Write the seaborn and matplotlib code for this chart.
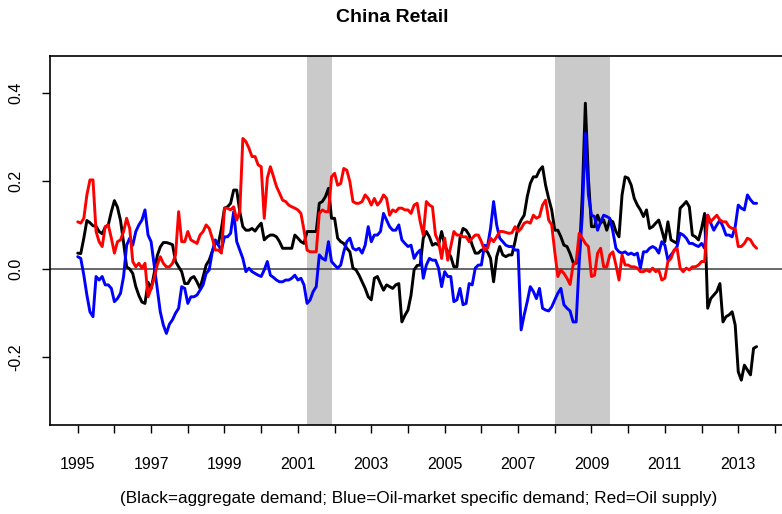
import numpy as np
import pandas as pd
import seaborn as sns
import matplotlib.pyplot as plt

# --- Style ---
sns.set_theme(style="ticks")
plt.rcParams['font.family'] = ['Liberation Sans', 'DejaVu Sans']
plt.rcParams['text.color'] = 'black'

# --- Data (monthly, 1995:01 - 2013:07) ---
START_YEAR = 1995

aggregate_demand = [
    0.036, 0.035, 0.07, 0.11, 0.105, 0.098, 0.097, 0.085, 0.08, 0.095,
    0.1, 0.13, 0.155, 0.14, 0.11, 0.06, 0.005, 0.0, -0.01, -0.04,
    -0.06, -0.075, -0.078, -0.03, -0.045, -0.01, 0.03, 0.05, 0.06, 0.06,
    0.058, 0.055, 0.017, 0.005, -0.006, -0.033, -0.033, -0.021, -0.017, -0.029,
    -0.044, -0.017, 0.009, 0.02, 0.04, 0.058, 0.058, 0.092, 0.138, 0.141,
    0.149, 0.179, 0.179, 0.13, 0.096, 0.088, 0.088, 0.092, 0.086, 0.096,
    0.104, 0.066, 0.073, 0.077, 0.077, 0.073, 0.062, 0.047, 0.047, 0.047,
    0.047, 0.077, 0.07, 0.062, 0.058, 0.085, 0.085, 0.085, 0.085, 0.149,
    0.153, 0.164, 0.183, 0.115, 0.115, 0.07, 0.062, 0.058, 0.047, 0.039,
    0.002, -0.002, -0.014, -0.029, -0.044, -0.063, -0.07, -0.021, -0.017, -0.033,
    -0.048, -0.036, -0.04, -0.044, -0.036, -0.033, -0.12, -0.105, -0.093, -0.059,
    -0.002, 0.008, 0.009, 0.07, 0.085, 0.073, 0.054, 0.058, 0.054, 0.085,
    0.054, 0.039, 0.028, 0.005, 0.005, 0.07, 0.092, 0.088, 0.077, 0.054,
    0.036, 0.036, 0.043, 0.043, 0.039, 0.024, -0.029, 0.028, 0.051, 0.032,
    0.028, 0.032, 0.032, 0.062, 0.096, 0.111, 0.122, 0.164, 0.194, 0.209,
    0.209, 0.224, 0.232, 0.19, 0.16, 0.134, 0.088, 0.088, 0.073, 0.054,
    0.051, 0.035, 0.015, 0.013, 0.024, 0.168, 0.376, 0.206, 0.096, 0.096,
    0.122, 0.104, 0.111, 0.088, 0.111, 0.107, 0.085, 0.073, 0.168, 0.209,
    0.206, 0.19, 0.16, 0.145, 0.134, 0.119, 0.134, 0.092, 0.096, 0.104,
    0.111, 0.088, 0.062, 0.107, 0.066, 0.062, 0.058, 0.138, 0.145, 0.153,
    0.141, 0.077, 0.073, 0.066, 0.092, 0.126, -0.089, -0.067, -0.059, -0.051,
    -0.033, -0.12, -0.108, -0.104, -0.097, -0.127, -0.233, -0.252, -0.218, -0.229,
    -0.24, -0.18, -0.176,
]

oil_specific_demand = [
    0.028, 0.024, -0.014, -0.059, -0.097, -0.108, -0.017, -0.025, -0.017, -0.036,
    -0.036, -0.044, -0.074, -0.067, -0.055, -0.017, 0.054, 0.07, 0.054, 0.085,
    0.1, 0.111, 0.134, 0.077, 0.062, 0.009, -0.044, -0.097, -0.127, -0.146,
    -0.125, -0.115, -0.1, -0.089, -0.04, -0.044, -0.078, -0.063, -0.063, -0.059,
    -0.048, -0.036, -0.01, -0.002, 0.039, 0.066, 0.054, 0.043, 0.073, 0.073,
    0.081, 0.13, 0.062, 0.043, 0.024, -0.006, 0.002, -0.006, -0.01, -0.014,
    -0.017, -0.002, 0.017, -0.014, -0.019, -0.025, -0.029, -0.029, -0.025, -0.025,
    -0.021, -0.014, -0.025, -0.021, -0.036, -0.078, -0.07, -0.051, -0.04, 0.032,
    0.024, 0.02, 0.062, 0.017, 0.009, 0.002, 0.009, 0.039, 0.062, 0.07,
    0.047, 0.043, 0.047, 0.036, 0.054, 0.096, 0.062, 0.077, 0.077, 0.085,
    0.126, 0.111, 0.096, 0.088, 0.088, 0.1, 0.066, 0.058, 0.051, 0.054,
    0.024, 0.036, 0.043, -0.021, 0.009, 0.024, 0.02, 0.02, 0.002, -0.04,
    -0.006, -0.017, -0.017, -0.074, -0.07, -0.044, -0.081, -0.078, -0.033, -0.036,
    0.002, 0.009, 0.009, 0.054, 0.051, 0.092, 0.153, 0.1, 0.07, 0.062,
    0.054, 0.051, 0.051, 0.043, 0.043, -0.138, -0.104, -0.074, -0.04, -0.051,
    -0.067, -0.044, -0.089, -0.093, -0.095, -0.086, -0.07, -0.055, -0.044, -0.081,
    -0.089, -0.095, -0.12, -0.12, 0.017, 0.122, 0.308, 0.168, 0.122, 0.119,
    0.088, 0.107, 0.122, 0.119, 0.115, 0.085, 0.047, 0.039, 0.036, 0.039,
    0.033, 0.036, 0.032, 0.036, 0.002, 0.039, 0.039, 0.047, 0.051, 0.047,
    0.036, 0.062, 0.054, 0.02, 0.032, 0.041, 0.051, 0.081, 0.077, 0.07,
    0.058, 0.058, 0.054, 0.051, 0.058, 0.047, 0.122, 0.104, 0.088, 0.1,
    0.111, 0.096, 0.077, 0.077, 0.073, 0.096, 0.145, 0.138, 0.134, 0.168,
    0.157, 0.149, 0.149,
]

oil_supply = [
    0.107, 0.104, 0.115, 0.168, 0.202, 0.202, 0.085, 0.062, 0.051, 0.096,
    0.1, 0.07, 0.036, 0.062, 0.066, 0.085, 0.115, 0.092, 0.017, 0.005,
    0.013, 0.002, 0.013, -0.063, -0.044, -0.021, 0.009, 0.028, 0.013, 0.005,
    0.005, 0.013, 0.032, 0.13, 0.062, 0.062, 0.085, 0.066, 0.062, 0.058,
    0.077, 0.085, 0.1, 0.092, 0.07, 0.043, 0.043, 0.036, 0.138, 0.138,
    0.134, 0.141, 0.111, 0.13, 0.296, 0.289, 0.274, 0.255, 0.255, 0.236,
    0.232, 0.115, 0.206, 0.232, 0.21, 0.187, 0.172, 0.156, 0.153, 0.145,
    0.141, 0.138, 0.134, 0.126, 0.088, 0.043, 0.039, 0.039, 0.039, 0.126,
    0.134, 0.13, 0.13, 0.209, 0.217, 0.19, 0.194, 0.228, 0.224, 0.198,
    0.153, 0.149, 0.149, 0.153, 0.168, 0.16, 0.145, 0.16, 0.145, 0.153,
    0.168, 0.16, 0.122, 0.134, 0.13, 0.138, 0.138, 0.134, 0.134, 0.126,
    0.145, 0.149, 0.107, 0.077, 0.153, 0.145, 0.141, 0.077, 0.062, 0.024,
    0.07, 0.02, 0.051, 0.085, 0.077, 0.077, 0.073, 0.073, 0.062, 0.07,
    0.077, 0.077, 0.062, 0.043, 0.047, 0.07, 0.062, 0.073, 0.085, 0.085,
    0.083, 0.081, 0.082, 0.096, 0.085, 0.092, 0.104, 0.107, 0.104, 0.122,
    0.115, 0.119, 0.145, 0.156, 0.111, 0.1, 0.039, -0.017, -0.002, -0.01,
    -0.021, -0.035, 0.009, 0.017, 0.081, 0.07, 0.058, 0.051, -0.017, -0.014,
    0.036, 0.047, 0.005, 0.005, 0.032, 0.039, 0.009, -0.025, 0.032, 0.009,
    0.009, 0.005, 0.005, 0.002, -0.006, -0.006, -0.002, -0.006, 0.002, -0.006,
    -0.002, -0.025, -0.021, 0.017, 0.024, 0.043, 0.047, 0.002, -0.006, 0.002,
    -0.002, 0.005, 0.005, 0.009, 0.017, 0.017, 0.122, 0.107, 0.115, 0.122,
    0.111, 0.107, 0.107, 0.096, 0.092, 0.092, 0.051, 0.051, 0.058, 0.07,
    0.066, 0.054, 0.047,
]

# US recessions (shaded)
recessions = [(2001.25, 2001.92), (2008.0, 2009.5)]

series_names = ['Aggregate demand', 'Oil-market specific demand', 'Oil supply']
series_colors = ['black', 'blue', 'red']
x_ticks = list(range(1995, 2015))
y_ticks = [-0.2, 0.0, 0.2, 0.4]

# --- Long-format frame for seaborn ---
n = len(aggregate_demand)
year = START_YEAR + np.arange(n) / 12
df = pd.DataFrame({
    'year': np.tile(year, 3),
    'value': aggregate_demand + oil_specific_demand + oil_supply,
    'shock': np.repeat(series_names, n),
})

# --- Plot ---
W, H = 782, 514
fig = plt.figure(figsize=(W / 100, H / 100), dpi=100)
ax = fig.add_axes([50 / W, (H - 425) / H, 740 / W, 369 / H])

for start, end in recessions:
    ax.axvspan(start, end, color='#cacaca', lw=0, zorder=0)

ax.axhline(0, color='#404040', lw=1.1, zorder=1)

sns.lineplot(data=df, x='year', y='value', hue='shock', hue_order=series_names,
             palette=dict(zip(series_names, series_colors)), estimator=None,
             linewidth=2.1, legend=False, ax=ax, zorder=3)

ax.set_xlim(1994.245, 2014.41)
ax.set_ylim(-0.3537, 0.483)

ax.set_xticks(x_ticks)
ax.set_xticklabels([str(y) if y % 2 == 1 else '' for y in x_ticks])
ax.set_yticks(y_ticks)
ax.set_yticklabels([f"{v:.1f}" for v in y_ticks], rotation=90, va='center')
ax.tick_params(axis='both', direction='out', length=6, width=1.0,
               color='black', labelsize=11.5, labelcolor='black')
ax.tick_params(axis='x', pad=17)
ax.tick_params(axis='y', pad=13)

for side in ['left', 'bottom', 'top']:
    ax.spines[side].set_color('black')
    ax.spines[side].set_linewidth(1.2)
ax.spines['right'].set_visible(False)

ax.set_xlabel('')
ax.set_ylabel('')

fig.text(392 / W, 1 - 17 / H, 'China Retail', ha='center', va='center',
         fontsize=14, fontweight='bold', color='black')
fig.text(419 / W, 1 - 498 / H,
         '(Black=aggregate demand; Blue=Oil-market specific demand; Red=Oil supply)',
         ha='center', va='center', fontsize=12.3, color='black')

fig.savefig('out.png', dpi=100)
